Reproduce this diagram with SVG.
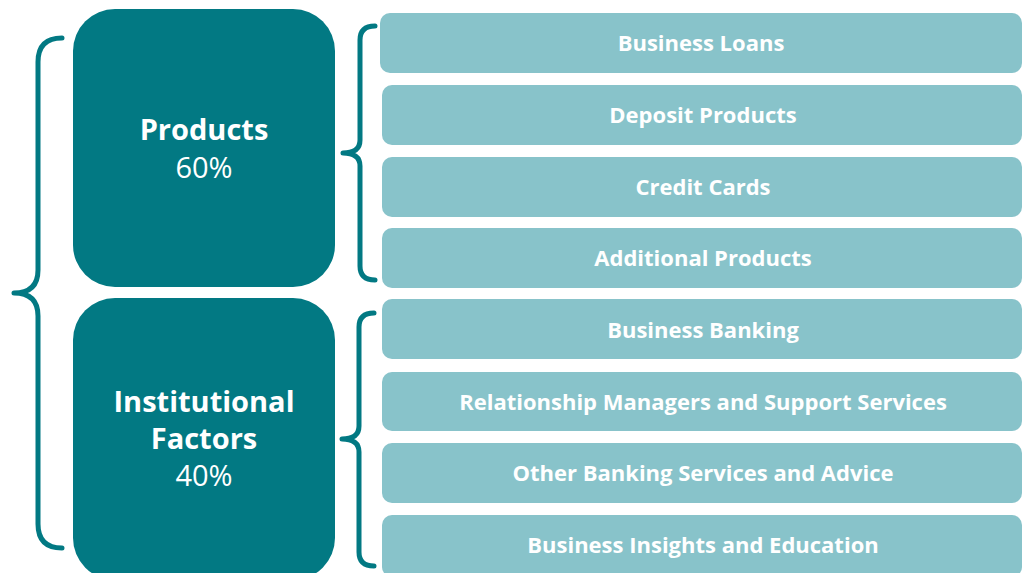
<svg xmlns="http://www.w3.org/2000/svg" width="1027" height="573" viewBox="0 0 1027 573">
<style>
.main{fill:#027983}
.bar{fill:#88C3CA}
.brace{fill:none;stroke:#027983;stroke-width:5;stroke-linecap:round;stroke-linejoin:round}
.bt{font-family:"Open Sans","Liberation Sans",sans-serif;font-weight:700;font-size:22px;fill:#fff;text-anchor:middle}
.mt{font-family:"Open Sans","Liberation Sans",sans-serif;font-size:29px;fill:#fff;text-anchor:middle}
.mb{font-weight:700}
</style>
<rect width="1027" height="573" fill="#fff"/>
<g id="connectors">
<path class="brace" d="M62,38 Q38,38 38,62 L38,270 Q38,293 14,293 Q38,293 38,316 L38,524 Q38,548 62,548"/>
<path class="brace" d="M375,26 Q360,26 360,40 L360,140 Q360,153 343,153 Q360,153 360,166 L360,266 Q360,280 375,280"/>
<path class="brace" d="M374,313 Q359,313 359,327 L359,426 Q359,439 342,439 Q359,439 359,452 L359,552 Q359,566 374,566"/>
</g>
<g id="products">
<rect class="main" x="73" y="9" width="262" height="278" rx="42"/>
<text class="mt mb" x="204" y="140">Products</text>
<text class="mt" x="204" y="178">60%</text>
</g>
<g id="institutional">
<rect class="main" x="73" y="298" width="262" height="282" rx="42"/>
<text class="mt mb" x="204" y="412">Institutional</text>
<text class="mt mb" x="204" y="449">Factors</text>
<text class="mt" x="204" y="486">40%</text>
</g>
<g id="b1"><rect class="bar" x="380" y="13" width="642" height="60" rx="10"/><text class="bt" x="701" y="51">Business Loans</text></g>
<g id="b2"><rect class="bar" x="382" y="85" width="640" height="60" rx="10"/><text class="bt" x="703" y="123">Deposit Products</text></g>
<g id="b3"><rect class="bar" x="382" y="157" width="640" height="60" rx="10"/><text class="bt" x="703" y="195">Credit Cards</text></g>
<g id="b4"><rect class="bar" x="382" y="228" width="640" height="60" rx="10"/><text class="bt" x="703" y="266">Additional Products</text></g>
<g id="b5"><rect class="bar" x="382" y="299" width="640" height="60" rx="10"/><text class="bt" x="703" y="338">Business Banking</text></g>
<g id="b6"><rect class="bar" x="382" y="372" width="640" height="59" rx="10"/><text class="bt" x="703" y="410">Relationship Managers and Support Services</text></g>
<g id="b7"><rect class="bar" x="382" y="443" width="640" height="60" rx="10"/><text class="bt" x="703" y="481">Other Banking Services and Advice</text></g>
<g id="b8"><rect class="bar" x="382" y="515" width="640" height="62" rx="10"/><text class="bt" x="703" y="553">Business Insights and Education</text></g>
</svg>
